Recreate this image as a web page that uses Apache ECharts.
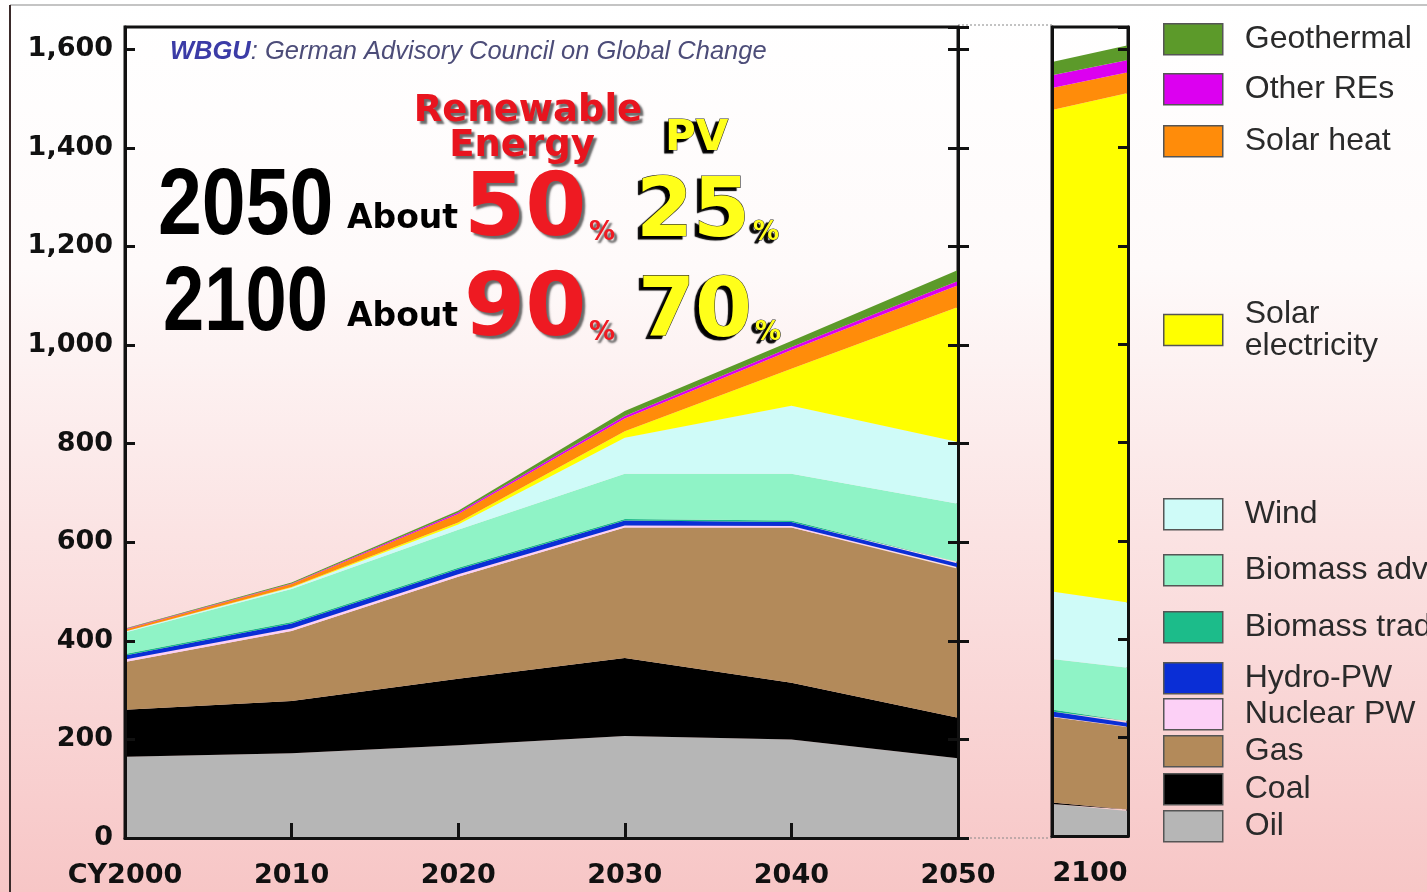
<!DOCTYPE html>
<html>
<head>
<meta charset="utf-8">
<script src="https://cdn.jsdelivr.net/npm/echarts@6/dist/echarts.min.js"></script>
<style>html,body{margin:0;padding:0;}#c{width:1427px;height:892px;}</style>
</head>
<body>
<div id="c"></div>
<script>
// ---- data ----
const years = ['CY2000', '2010', '2020', '2030', '2040', '2050'];
const points2100 = ['2100a', '2100b'];
const yTicks = [0, 200, 400, 600, 800, 1000, 1200, 1400, 1600];

const oil        = [165, 172, 188, 207, 200, 162];
const coal       = [95, 106, 135, 158, 115, 82];
const gas        = [97, 142, 207, 265, 315, 302];
const nuclear    = [5, 5, 5, 4, 3, 3];
const hydro      = [8, 10, 10, 10, 8, 8];
const bioTrad    = [3, 3, 3, 3, 3, 3];
const bioAdv     = [44, 67, 77, 92, 95, 118];
const wind       = [2, 3, 11, 73, 138, 125];
const solarElec  = [0, 1, 4, 13, 75, 274];
const solarHeat  = [4, 6, 17, 26, 38, 44];
const otherRE    = [1, 1, 3, 5, 6, 9];
const geothermal = [1, 2, 4, 10, 12, 22];

const oil2100        = [65, 51];
const coal2100       = [3, 3];
const gas2100        = [174, 167];
const nuclear2100    = [1, 1];
const hydro2100      = [10, 8];
const bioTrad2100    = [4, 4];
const bioAdv2100     = [103, 108];
const wind2100       = [137, 133];
const solarElec2100  = [979, 1036];
const solarHeat2100  = [45, 42];
const otherRE2100    = [26, 25];
const geothermal2100 = [27, 30];

// bottom -> top stacking order
const layers = [
  {name: 'Oil', color: '#b6b6b6', main: oil, p: oil2100, ly: 826},
  {name: 'Coal', color: '#000000', main: coal, p: coal2100, ly: 789},
  {name: 'Gas', color: '#b38a5a', main: gas, p: gas2100, ly: 751},
  {name: 'Nuclear PW', color: '#fcd0f6', main: nuclear, p: nuclear2100, ly: 714},
  {name: 'Hydro-PW', color: '#0a2ed6', main: hydro, p: hydro2100, ly: 678},
  {name: 'Biomass traditional', color: '#1cbc8a', main: bioTrad, p: bioTrad2100, ly: 627},
  {name: 'Biomass advanced', color: '#8ff3c6', main: bioAdv, p: bioAdv2100, ly: 570},
  {name: 'Wind', color: '#cffbf8', main: wind, p: wind2100, ly: 514},
  {name: 'Solar electricity', color: '#ffff00', main: solarElec, p: solarElec2100, ly: 330},
  {name: 'Solar heat', color: '#ff8c0a', main: solarHeat, p: solarHeat2100, ly: 141},
  {name: 'Other REs', color: '#dc00f0', main: otherRE, p: otherRE2100, ly: 89},
  {name: 'Geothermal', color: '#5c9a2a', main: geothermal, p: geothermal2100, ly: 39}
];

const YMAX = 1645;
const axisFont = {fontFamily: 'DejaVu Sans', fontWeight: 'bold', fontSize: 27, color: '#111'};

const series = [];
layers.forEach(l => {
  const base = {
    name: l.name, type: 'line', symbol: 'none', silent: true, z: 2,
    lineStyle: {width: 0}, itemStyle: {color: l.color},
    areaStyle: {color: l.color, opacity: 1}, emphasis: {disabled: true}
  };
  series.push(Object.assign({}, base, {stack: 'main', xAxisIndex: 0, yAxisIndex: 0, data: l.main}));
  series.push(Object.assign({}, base, {stack: 'p2100', xAxisIndex: 1, yAxisIndex: 3, data: l.p}));
});

const legends = layers.map(l => {
  const two = l.name === 'Solar electricity';
  return {
    data: [l.name], left: 1163, top: l.ly - (two ? 32 : 16), padding: 0,
    icon: 'rect', itemWidth: 59, itemHeight: 31, selectedMode: false,
    itemStyle: {borderColor: '#555', borderWidth: 1.5},
    formatter: n => (n === 'Solar electricity' ? 'Solar\nelectricity' : n),
    textStyle: {fontFamily: 'Liberation Sans', fontSize: 32, lineHeight: 32, color: '#2a2a2a', padding: [0, 0, 0, 17]}
  };
});

const bigText = (x, y, text, font, fill, shadow, align, extra) => Object.assign({
  type: 'text', x: x, y: y, z: 50, silent: true,
  style: Object.assign({
    text: text, font: font, fill: fill,
    textAlign: align || 'left', align: align || 'left',
    textVerticalAlign: 'bottom', verticalAlign: 'bottom'
  }, shadow || {})
}, extra || {});
const sh = (c, dx, dy, b) => ({
  shadowColor: c, shadowOffsetX: dx, shadowOffsetY: dy, shadowBlur: b,
  textShadowColor: c, textShadowOffsetX: dx, textShadowOffsetY: dy, textShadowBlur: b
});
const redSh = sh('rgba(80,80,80,0.85)', 3, 3, 2);
const ylwSh = Object.assign(sh('rgba(0,0,0,1)', -4, 3, 1), {stroke: '#333', lineWidth: 1.2});
const blkFont = 'bold 95px "Liberation Sans"';

const option = {
  animation: false,
  backgroundColor: {
    type: 'linear', x: 0, y: 0, x2: 0, y2: 1,
    colorStops: [
      {offset: 0, color: '#ffffff'}, {offset: 0.3, color: '#fefafa'},
      {offset: 0.6, color: '#fbe3e3'}, {offset: 1, color: '#f7c6c6'}
    ]
  },
  grid: [
    {left: 125, right: 469, top: 27, bottom: 54, show: true, borderColor: '#111', borderWidth: 3, backgroundColor: 'transparent'},
    {left: 1052, width: 76, top: 27, bottom: 54, show: true, borderColor: '#111', borderWidth: 3, backgroundColor: 'transparent'}
  ],
  xAxis: [
    {gridIndex: 0, type: 'category', data: years, boundaryGap: false, z: 10,
     axisLine: {lineStyle: {color: '#111', width: 3}},
     axisTick: {inside: true, length: 15, lineStyle: {color: '#111', width: 3}},
     axisLabel: Object.assign({margin: 24}, axisFont), splitLine: {show: false}},
    {gridIndex: 1, type: 'category', data: points2100, boundaryGap: false, z: 10,
     axisLine: {lineStyle: {color: '#111', width: 3}}, axisTick: {show: false},
     axisLabel: {show: false}, splitLine: {show: false},
     name: '2100', nameLocation: 'middle', nameGap: 24, nameTextStyle: axisFont}
  ],
  yAxis: [
    {gridIndex: 0, type: 'value', position: 'left', min: 0, max: YMAX, interval: 200, z: 10,
     axisLine: {show: true, lineStyle: {color: '#111', width: 3}},
     axisTick: {show: true, inside: true, length: 10, lineStyle: {color: '#111', width: 3}},
     axisLabel: Object.assign({margin: 12, showMaxLabel: false,
       formatter: v => (yTicks.indexOf(v) >= 0 ? v.toLocaleString('en-US') : '')}, axisFont),
     splitLine: {show: false}},
    {gridIndex: 0, type: 'value', position: 'right', min: 0, max: YMAX, interval: 200, z: 10,
     axisLine: {show: true, lineStyle: {color: '#111', width: 3}},
     axisTick: {show: true, inside: true, length: 10, lineStyle: {color: '#111', width: 3}},
     axisLabel: {show: false}, splitLine: {show: false}},
    {gridIndex: 0, type: 'value', position: 'right', min: 0, max: YMAX, interval: 200, z: 10,
     axisLine: {show: false},
     axisTick: {show: true, inside: false, length: 11, lineStyle: {color: '#111', width: 3}},
     axisLabel: {show: false}, splitLine: {show: false}},
    {gridIndex: 1, type: 'value', position: 'right', min: 0, max: YMAX, interval: 200, z: 10,
     axisLine: {show: true, lineStyle: {color: '#111', width: 3}},
     axisTick: {show: true, inside: true, length: 10, lineStyle: {color: '#111', width: 3}},
     axisLabel: {show: false}, splitLine: {show: false}},
    {gridIndex: 1, type: 'value', position: 'left', min: 0, max: YMAX, interval: 200, z: 10,
     axisLine: {show: true, lineStyle: {color: '#111', width: 3}},
     axisTick: {show: false}, axisLabel: {show: false}, splitLine: {show: false}}
  ],
  legend: legends,
  series: series,
  graphic: [
    {type: 'line', silent: true, z: 1, shape: {x1: 10, y1: 5, x2: 1427, y2: 5}, style: {stroke: '#c4c4c4', lineWidth: 2}},
    {type: 'line', silent: true, z: 1, shape: {x1: 10, y1: 5, x2: 10, y2: 892}, style: {stroke: '#3a2a2a', lineWidth: 2}},
    {type: 'line', silent: true, z: 1, shape: {x1: 958, y1: 25, x2: 1052, y2: 25}, style: {stroke: '#888', lineWidth: 1, lineDash: [2, 2]}},
    {type: 'line', silent: true, z: 1, shape: {x1: 958, y1: 838, x2: 1052, y2: 838}, style: {stroke: '#888', lineWidth: 1, lineDash: [2, 2]}},
    {type: 'text', x: 170, y: 52, z: 50, silent: true,
     style: {text: '{a|WBGU}{b|: German Advisory Council on Global Change}',
       textVerticalAlign: 'middle', verticalAlign: 'middle',
       rich: {
         a: {fontFamily: 'Liberation Sans', fontStyle: 'italic', fontWeight: 'bold', fontSize: 25.5, fill: '#3b3ba6', color: '#3b3ba6'},
         b: {fontFamily: 'Liberation Sans', fontStyle: 'italic', fontSize: 25.5, fill: '#4c4c78', color: '#4c4c78'}
       }}},
    bigText(528, 130, 'Renewable', 'bold 37px "DejaVu Sans"', '#e8141e', redSh, 'center'),
    bigText(522, 165, 'Energy', 'bold 37px "DejaVu Sans"', '#e8141e', redSh, 'center'),
    bigText(665, 160, 'PV', 'bold 42px "DejaVu Sans"', '#ffff1a', ylwSh),
    bigText(158, 255, '2050', blkFont, '#000', null, 'left', {scaleX: 0.83}),
    bigText(163, 350, '2100', blkFont, '#000', null, 'left', {scaleX: 0.78, scaleY: 0.96}),
    bigText(347, 236, 'About', 'bold 33px "DejaVu Sans"', '#000'),
    bigText(347, 334, 'About', 'bold 33px "DejaVu Sans"', '#000'),
    bigText(464, 256, '50', 'bold 88px "DejaVu Sans"', '#ee1a22', redSh),
    bigText(589, 246, '%', 'bold 26px "DejaVu Sans"', '#ee1a22', redSh),
    bigText(636, 256, '25', 'bold 82px "DejaVu Sans"', '#ffff1a', ylwSh),
    bigText(753, 246, '%', 'bold 26px "DejaVu Sans"', '#ffff1a', ylwSh),
    bigText(464, 356, '90', 'bold 88px "DejaVu Sans"', '#ee1a22', redSh),
    bigText(589, 346, '%', 'bold 26px "DejaVu Sans"', '#ee1a22', redSh),
    bigText(638, 356, '70', 'bold 82px "DejaVu Sans"', '#ffff1a', ylwSh),
    bigText(755, 346, '%', 'bold 26px "DejaVu Sans"', '#ffff1a', ylwSh)
  ]
};

const chart = echarts.init(document.getElementById('c'), null, {renderer: 'canvas'});
chart.setOption(option);
</script>
</body>
</html>
